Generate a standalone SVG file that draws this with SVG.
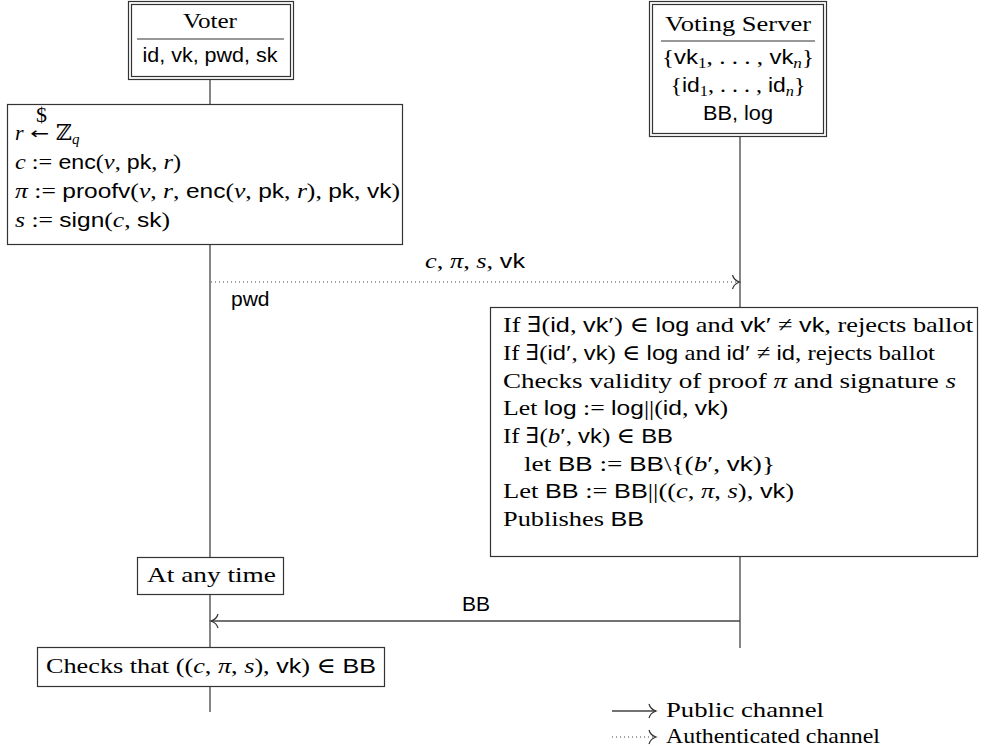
<svg xmlns="http://www.w3.org/2000/svg" width="985" height="752" viewBox="0 0 985 752">
<style>
.rm{font-family:"Liberation Serif","DejaVu Serif",serif;font-size:22px;fill:#000}
.sf{font-family:"Liberation Sans","DejaVu Sans",sans-serif;font-size:21px}
.it{font-style:italic}
.box{fill:#fff;stroke:#333;stroke-width:1.2}
.ln{fill:none;stroke:#444;stroke-width:1.3}
.dot{fill:none;stroke:#444;stroke-width:1.2;stroke-dasharray:1 3}
.sub{font-size:15px}
text{white-space:pre}
</style>
<defs>
<marker id="to" markerUnits="userSpaceOnUse" viewBox="-10 -9 12 18" refX="0" refY="0" markerWidth="12" markerHeight="18" orient="auto">
<path d="M -7 -7 C -6 -3 -2 -0.7 0 0 C -2 0.7 -6 3 -7 7" fill="none" stroke="#333" stroke-width="1.2" stroke-dasharray="none"/>
</marker>
</defs>

<g id="lifelines">
<line class="ln" x1="210" y1="80" x2="210" y2="712"/>
<line class="ln" x1="740" y1="137" x2="740" y2="309"/>
<line class="ln" x1="740" y1="557" x2="740" y2="648"/>
</g>

<g id="voter">
<rect class="box" x="128.5" y="1.5" width="165" height="78"/>
<rect class="box" x="131.5" y="4.5" width="159" height="72"/>
<text class="rm" x="210" y="28" text-anchor="middle" textLength="54" lengthAdjust="spacingAndGlyphs">Voter</text>
<line x1="137" y1="39" x2="284" y2="39" stroke="#333" stroke-width="1.2"/>
<text class="sf" x="210" y="62" text-anchor="middle" textLength="135" lengthAdjust="spacingAndGlyphs">id, vk, pwd, sk</text>
</g>

<g id="server">
<rect class="box" x="649.5" y="1.5" width="177" height="135"/>
<rect class="box" x="652.5" y="4.5" width="171" height="129"/>
<text class="rm" x="738" y="31" text-anchor="middle" textLength="146" lengthAdjust="spacingAndGlyphs">Voting Server</text>
<line x1="661" y1="41" x2="815" y2="41" stroke="#333" stroke-width="1.2"/>
<text class="rm" x="738" y="64" text-anchor="middle" textLength="152" lengthAdjust="spacingAndGlyphs">{<tspan class="sf">vk</tspan><tspan class="sub" dy="4">1</tspan><tspan dy="-4">, . . . , </tspan><tspan class="sf">vk</tspan><tspan class="sub it" dy="4">n</tspan><tspan dy="-4">}</tspan></text>
<text class="rm" x="738" y="92" text-anchor="middle" textLength="135" lengthAdjust="spacingAndGlyphs">{<tspan class="sf">id</tspan><tspan class="sub" dy="4">1</tspan><tspan dy="-4">, . . . , </tspan><tspan class="sf">id</tspan><tspan class="sub it" dy="4">n</tspan><tspan dy="-4">}</tspan></text>
<text class="sf" x="738" y="120" text-anchor="middle" textLength="70" lengthAdjust="spacingAndGlyphs">BB, log</text>
</g>

<g id="voter-compute">
<rect class="box" x="7.5" y="104.5" width="395" height="140"/>
<text class="rm" x="15" y="140"><tspan class="it">r</tspan></text>
<text x="30" y="139" font-family="DejaVu Sans, sans-serif" font-size="16" textLength="19" lengthAdjust="spacingAndGlyphs">←</text>
<text class="rm" x="36" y="122" font-size="12">$</text>
<text class="rm" x="56" y="140">ℤ<tspan class="sub it" dy="4">q</tspan></text>
<text class="rm" x="15" y="169" textLength="166" lengthAdjust="spacingAndGlyphs"><tspan class="it">c</tspan> := <tspan class="sf">enc</tspan>(<tspan class="it">v</tspan>, <tspan class="sf">pk</tspan>, <tspan class="it">r</tspan>)</text>
<text class="rm" x="15" y="198" textLength="385" lengthAdjust="spacingAndGlyphs"><tspan class="it">π</tspan> := <tspan class="sf">proofv</tspan>(<tspan class="it">v</tspan>, <tspan class="it">r</tspan>, <tspan class="sf">enc</tspan>(<tspan class="it">v</tspan>, <tspan class="sf">pk</tspan>, <tspan class="it">r</tspan>), <tspan class="sf">pk</tspan>, <tspan class="sf">vk</tspan>)</text>
<text class="rm" x="15" y="227" textLength="155" lengthAdjust="spacingAndGlyphs"><tspan class="it">s</tspan> := <tspan class="sf">sign</tspan>(<tspan class="it">c</tspan>, <tspan class="sf">sk</tspan>)</text>
</g>

<g id="server-compute">
<rect class="box" x="490.5" y="307.5" width="487" height="249"/>
<text class="rm" x="503" y="332" textLength="470" lengthAdjust="spacingAndGlyphs">If ∃(<tspan class="sf">id</tspan>, <tspan class="sf">vk</tspan>′) ∈ <tspan class="sf">log</tspan> and <tspan class="sf">vk</tspan>′ ≠ <tspan class="sf">vk</tspan>, rejects ballot</text>
<text class="rm" x="503" y="360" textLength="432" lengthAdjust="spacingAndGlyphs">If ∃(<tspan class="sf">id</tspan>′, <tspan class="sf">vk</tspan>) ∈ <tspan class="sf">log</tspan> and <tspan class="sf">id</tspan>′ ≠ <tspan class="sf">id</tspan>, rejects ballot</text>
<text class="rm" x="503" y="388" textLength="453" lengthAdjust="spacingAndGlyphs">Checks validity of proof <tspan class="it">π</tspan> and signature <tspan class="it">s</tspan></text>
<text class="rm" x="503" y="415" textLength="225" lengthAdjust="spacingAndGlyphs">Let <tspan class="sf">log</tspan> := <tspan class="sf">log</tspan>||(<tspan class="sf">id</tspan>, <tspan class="sf">vk</tspan>)</text>
<text class="rm" x="503" y="443" textLength="170" lengthAdjust="spacingAndGlyphs">If ∃(<tspan class="it">b</tspan>′, <tspan class="sf">vk</tspan>) ∈ <tspan class="sf">BB</tspan></text>
<text class="rm" x="524" y="471" textLength="251" lengthAdjust="spacingAndGlyphs">let <tspan class="sf">BB</tspan> := <tspan class="sf">BB</tspan>\{(<tspan class="it">b</tspan>′, <tspan class="sf">vk</tspan>)}</text>
<text class="rm" x="503" y="498" textLength="291" lengthAdjust="spacingAndGlyphs">Let <tspan class="sf">BB</tspan> := <tspan class="sf">BB</tspan>||((<tspan class="it">c</tspan>, <tspan class="it">π</tspan>, <tspan class="it">s</tspan>), <tspan class="sf">vk</tspan>)</text>
<text class="rm" x="503" y="526" textLength="141" lengthAdjust="spacingAndGlyphs">Publishes <tspan class="sf">BB</tspan></text>
</g>

<g id="anytime">
<rect class="box" x="137.5" y="557.5" width="146" height="37"/>
<text class="rm" x="147" y="582" textLength="129" lengthAdjust="spacingAndGlyphs">At any time</text>
</g>

<g id="checks">
<rect class="box" x="37.5" y="647.5" width="347" height="39"/>
<text class="rm" x="46" y="673" textLength="330" lengthAdjust="spacingAndGlyphs">Checks that ((<tspan class="it">c</tspan>, <tspan class="it">π</tspan>, <tspan class="it">s</tspan>), <tspan class="sf">vk</tspan>) ∈ <tspan class="sf">BB</tspan></text>
</g>

<g id="connectors">
<line class="dot" x1="211" y1="282" x2="739.5" y2="282" marker-end="url(#to)"/>
<text class="rm" x="475" y="268" text-anchor="middle" textLength="100" lengthAdjust="spacingAndGlyphs"><tspan class="it">c</tspan>, <tspan class="it">π</tspan>, <tspan class="it">s</tspan>, <tspan class="sf">vk</tspan></text>
<text class="sf" x="231" y="306">pwd</text>
<line class="ln" x1="740" y1="621" x2="211" y2="621" marker-end="url(#to)"/>
<text class="sf" x="476" y="611" text-anchor="middle">BB</text>
</g>

<g id="legend">
<line class="ln" x1="612" y1="711" x2="656" y2="711" marker-end="url(#to)"/>
<text class="rm" x="666" y="717" textLength="158" lengthAdjust="spacingAndGlyphs">Public channel</text>
<line class="dot" x1="612" y1="737" x2="656" y2="737" marker-end="url(#to)"/>
<text class="rm" x="666" y="743" textLength="214" lengthAdjust="spacingAndGlyphs">Authenticated channel</text>
</g>
</svg>
